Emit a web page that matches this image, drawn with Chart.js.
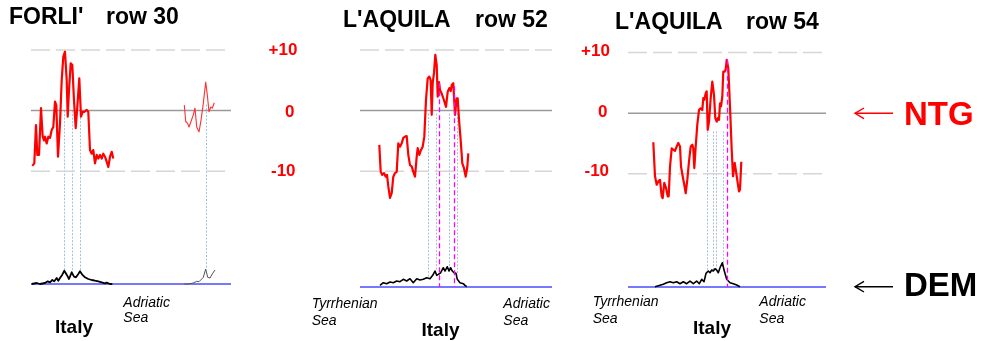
<!DOCTYPE html>
<html><head><meta charset="utf-8">
<script src="https://cdn.jsdelivr.net/npm/chart.js@4.4.1/dist/chart.umd.min.js"></script>
<style>
html,body{margin:0;padding:0;background:#fff;width:987px;height:341px;overflow:hidden;position:relative;font-family:"Liberation Sans",Arial,sans-serif;}
.t{position:absolute;line-height:0;height:0;white-space:pre;}
canvas{position:absolute;}
svg{position:absolute;left:0;top:0;}
</style></head><body>
<canvas id="c1"></canvas><canvas id="c2"></canvas><canvas id="c3"></canvas>
<svg width="987" height="341">
  <g stroke="#ff0000" stroke-width="1.4" fill="none"><line x1="855" y1="113.3" x2="893" y2="113.3"/><polyline points="864,108 855,113.3 864,118.6"/></g>
  <g stroke="#000" stroke-width="1.4" fill="none"><line x1="855" y1="286.7" x2="893" y2="286.7"/><polyline points="864,281.4 855,286.7 864,292"/></g>
</svg>
<div id="texts"></div>
<script>
// ---------------- DATA ----------------
const gridLevels = [10, 0, -10];               // NTG reference levels
const axisLabels = ['+10', '0', '-10'];

// Panel 1 : FORLI' row 30  (x = profile column, NTG in units, DEM in m)
const forliNtgX  = [1.3,3.3,5,6.3,8,10,11.7,13,14,15.7,17.3,19,20.7,22.3,24,25.3,27,29,30.7,32.3,34,35.7,36.7,38,39.7,41.3,43,44.7,46.3,48.3,50,51.7,53.3,55.7,57.3,59,60.7,62.3,64,65.7,67.3,69,70.7,72.3,74,75.7,77.3,79,80.7,82.3];
const forliNtg   = [-9.1,-8.7,-2.4,-7.3,-7.3,0.4,-4.3,-4.9,-4.3,-5.4,-4.3,-4.5,-3.2,-2.7,1.5,0.9,-7.6,-2.1,5.0,8.9,9.7,5.0,-1.0,3.4,7.8,7.5,1.7,-2.9,0.6,5.3,-1.0,-0.2,-0.2,0.1,-0.2,-6.5,-7.1,-6.5,-8.7,-7.3,-7.9,-7.3,-7.9,-7.1,-7.6,-8.4,-9.3,-7.6,-6.8,-7.9];
const forliNtgCoastX = [153.3,154.7,156.7,158,160,162.3,164,165.7,168,170,172.3,174.7,176.3,178,179.7,181.3,183.3];
const forliNtgCoast  = [0.9,-1.8,-2.1,-2.7,-1.8,-0.7,0.4,-2.7,-3.5,-1.6,1.2,4.7,2.6,-0.2,0.6,0.4,1.3];
const forliDemX  = [0.7,5.7,9,14,16.7,19,21.3,23.3,25.7,27.3,29,31.3,33.3,35.7,38,40.7,43,45,47.3,49,51.3,54,57.3,60.7,64,67.3,70.7,74,75.7,79,81.3];
const forliDem   = [0,100,0,100,270,170,400,270,600,330,600,930,1330,930,500,1170,730,670,1000,1270,930,670,500,400,330,270,170,70,130,0,0];
const forliDemCoastX = [153.3,157.3,162.3,165.7,168,170.7,172.3,174.7,176.7,179,181.3,184];
const forliDemCoast  = [0,0,100,270,230,500,670,1500,670,600,1000,1400];
const forliLinkX = [33.3,41.3,49,174.7], forliLinkNtg = [0,0,0,1], forliLinkDem = [1330,1170,1270,1500];
const forliFaultX = [], forliFaultNtg = [];

// Panel 2 : L'AQUILA row 52
const aq52NtgX = [19.3,20.7,22.3,24,25.7,27,28.3,30,31.7,33.3,35,36.7,38.3,40,41.7,43.3,45,46.7,48.3,50,51.7,53.3,55,56.7,57.7,59.3,61,62.7,64.3,66,67.7,69.3,70.7,71.7,72.7,74,75.3,76.7,77.7,79,80,81.7,84,86,87.7,89.3,90.7,91.7,93.3,95,96.7,97.7,99,100.7,102.3,104,105.7,107.3,108.3];
const aq52Ntg  = [-5.65,-10.1,-10.6,-10.3,-10.9,-10.6,-12.5,-14.4,-13.6,-10.9,-10.3,-10.1,-5.4,-5.95,-5.4,-4.5,-4.3,-4.2,-7.3,-9.0,-9.2,-10.1,-10.9,-7.6,-6.2,-7.3,-6.5,-5.95,-4.3,1.8,5.3,5.6,5.0,-0.7,4.5,6.2,9.2,7.5,2.3,4.7,3.4,2.8,1.7,0.6,3.1,3.7,3.2,4.2,4.5,-0.7,2.0,2.0,-1.5,-4.9,-8.7,-9.5,-10.9,-9.3,-7.05];
const aq52DemX = [20,23.3,26.7,30,33.3,36.7,40,43.3,46.7,50,53.3,56.7,60,63.3,66.7,70,72.7,75,76.7,78.3,80.7,83.3,85,87.3,89,90.7,92.3,94,96,97.3,100,103.3,105,106.7];
const aq52Dem  = [170,430,330,500,430,600,530,770,600,830,430,830,700,770,930,830,1170,1600,1170,1270,1430,1930,1600,2030,1600,1930,1600,1430,1370,770,430,330,170,30];
const aq52LinkX = [68.3,75.7,89.3,97.3], aq52LinkNtg = [-0.5,-0.5,-0.5,-0.5], aq52LinkDem = [1000,1600,1600,1200];
const aq52FaultX = [79.3,94], aq52FaultNtg = [4.5,4.0];

// Panel 3 : L'AQUILA row 54
const aq54NtgX = [25.3,27,28.7,30.3,32,33.7,34.7,36.3,38,39.7,40.7,42,43.7,45.3,47,48.7,50.3,52,53,54.7,56.3,57.7,59.3,61,62.7,64.3,65.3,66.3,67.7,69.3,71,72.7,74.3,75.3,76.3,77.7,78.7,79.7,81,82.7,84.3,86,87.3,88.7,90,91,92,93,94.3,95.3,96.7,97.7,98.7,100.3,102,103.7,105,106.7,108.3,109.7,111,112,113.3];
const aq54Ntg  = [-4.8,-10.4,-11.8,-11.25,-11,-13.7,-14.0,-11.5,-12.3,-13.7,-13.7,-8.8,-5.8,-6.0,-6.2,-5.5,-4.9,-5.5,-8.8,-10.4,-11.8,-13.2,-11,-7.95,-5.5,-5.2,-5.8,-9.05,-5.5,-1.9,0.5,0.8,0.5,2.5,2.2,3.3,3.6,-2.75,-1.4,2.5,5.2,3.0,-0.8,-1.4,-0.8,-1.1,1.6,1.1,2.7,6.85,6.85,7.2,8.8,7.4,1.1,-6.0,-10.4,-8.2,-9.9,-11.5,-12.9,-12.6,-8.0];
const aq54DemX = [27,32,35.3,38.7,42,45.3,48.7,52,55.3,58.7,62,65.3,68.7,71.3,73.7,76,78,80.3,82,83.7,85.3,87,88.7,90.3,92,94.3,96.3,98.7,102,105.3,108.7,112];
const aq54Dem  = [30,170,270,430,530,430,530,330,530,330,600,330,600,330,770,530,1370,1600,1430,1700,1600,1830,1700,1430,1930,2430,1600,770,430,330,200,30];
const aq54LinkX = [79.3,85.3,88,94.7], aq54LinkNtg = [-3,-3,-3,-3], aq54LinkDem = [1550,1750,1800,2400];
const aq54FaultX = [98.7], aq54FaultNtg = [8.8];

// ---------------- RENDER ----------------
const pts = (xs, ys) => xs.map((x, i) => ({x, y: ys[i]}));

function drawLinks(chart, list) {
  const {ctx, scales} = chart;
  list.forEach(l => {
    ctx.save();
    ctx.strokeStyle = l.color; ctx.lineWidth = l.width; ctx.setLineDash(l.dash);
    const px = Math.round(scales.x.getPixelForValue(l.x)) + 0.5;
    ctx.beginPath();
    ctx.moveTo(px, scales.y.getPixelForValue(l.top));
    ctx.lineTo(px, scales.dem.getPixelForValue(l.bottom));
    ctx.stroke();
    ctx.restore();
  });
}
function linkPlugin(links, faults) {
  return {
    id: 'links',
    beforeDatasetsDraw(chart) { drawLinks(chart, links); },
    afterDatasetsDraw(chart) { drawLinks(chart, faults); }
  };
}

function makePanel(id, geo, ntgSets, demSets, links, faults) {
  const pad = 6;
  const w = geo.right - geo.left, h = geo.bottom - geo.top;
  const cv = document.getElementById(id);
  cv.width = w + 2 * pad; cv.height = h + 2 * pad;
  cv.style.left = (geo.left - pad) + 'px'; cv.style.top = (geo.top - pad) + 'px';
  const yMin = -(geo.bottom - geo.zero) / geo.ppu, yMax = (geo.zero - geo.top) / geo.ppu;
  const demMax = h * 100;
  const ds = [];
  gridLevels.forEach(v => ds.push({data: [{x: 0, y: v}, {x: w, y: v}], yAxisID: 'y',
    borderColor: v === 0 ? '#9a9a9a' : '#d6d6d6', borderWidth: 1.5,
    borderDash: v === 0 ? [] : [19, 6], order: 10}));
  ds.push({data: [{x: 0, y: 0}, {x: w, y: 0}], yAxisID: 'dem', borderColor: '#4b4bff', borderWidth: 1.5, order: 9});
  demSets.forEach(s => ds.push({data: pts(s.x, s.y), yAxisID: 'dem', borderColor: s.color, borderWidth: s.width, order: 3}));
  ntgSets.forEach(s => ds.push({data: pts(s.x, s.y), yAxisID: 'y', borderColor: s.color, borderWidth: s.width, order: 1}));
  ds.forEach(d => { d.showLine = true; d.pointRadius = 0; d.clip = false; d.tension = 0; d.fill = false; d.borderJoinStyle = 'round'; });
  new Chart(cv, {
    type: 'scatter',
    data: {datasets: ds},
    options: {
      responsive: false, animation: false, devicePixelRatio: 1,
      layout: {padding: pad},
      plugins: {legend: {display: false}, tooltip: {enabled: false}},
      events: [],
      scales: {
        x: {type: 'linear', min: 0, max: w, display: false},
        y: {type: 'linear', min: yMin, max: yMax, display: false},
        dem: {type: 'linear', min: 0, max: demMax, display: false, position: 'right'}
      }
    },
    plugins: [linkPlugin(links, faults)]
  });
}

const mkLinks = (lx, lt, lb) => lx.map((x, i) => ({x, top: lt[i], bottom: lb[i], color: '#a3c2dc', width: 1, dash: [2, 1.5]}));
const mkFaults = (fx, ft) => fx.map((x, i) => ({x, top: ft[i], bottom: 0, color: '#ff00ff', width: 1.3, dash: [5, 3]}));

makePanel('c1', {left: 31, right: 231, top: 38, bottom: 284, zero: 110.6, ppu: 6.07},
  [{x: forliNtgX, y: forliNtg, color: '#ff0000', width: 2.2}, {x: forliNtgCoastX, y: forliNtgCoast, color: '#ff3030', width: 1.1}],
  [{x: forliDemX, y: forliDem, color: '#000', width: 1.8}, {x: forliDemCoastX, y: forliDemCoast, color: '#555', width: 1}],
  mkLinks(forliLinkX, forliLinkNtg, forliLinkDem), mkFaults(forliFaultX, forliFaultNtg));
makePanel('c2', {left: 360, right: 552, top: 38, bottom: 287.5, zero: 110.7, ppu: 6.08},
  [{x: aq52NtgX, y: aq52Ntg, color: '#ff0000', width: 2.2}],
  [{x: aq52DemX, y: aq52Dem, color: '#000', width: 1.6}],
  mkLinks(aq52LinkX, aq52LinkNtg, aq52LinkDem), mkFaults(aq52FaultX, aq52FaultNtg));
makePanel('c3', {left: 628, right: 826, top: 40, bottom: 287.5, zero: 113.3, ppu: 6.08},
  [{x: aq54NtgX, y: aq54Ntg, color: '#ff0000', width: 2.2}],
  [{x: aq54DemX, y: aq54Dem, color: '#000', width: 1.6}],
  mkLinks(aq54LinkX, aq54LinkNtg, aq54LinkDem), mkFaults(aq54FaultX, aq54FaultNtg));

// ---------------- TEXT ----------------
const T = document.getElementById('texts');
function put(txt, x, baseline, size, weight, style, color) {
  const d = document.createElement('div');
  d.className = 't';
  d.textContent = txt;
  d.style.left = x + 'px';
  d.style.top = (baseline - 0.3465 * size) + 'px';
  d.style.fontSize = size + 'px';
  d.style.fontWeight = weight; d.style.fontStyle = style; d.style.color = color;
  T.appendChild(d);
}
put("FORLI'", 9, 23.5, 23, 'bold', 'normal', '#000');
put('row 30', 106, 23.5, 23, 'bold', 'normal', '#000');
put("L'AQUILA", 343, 26.7, 23, 'bold', 'normal', '#000');
put('row 52', 475, 26.7, 23, 'bold', 'normal', '#000');
put("L'AQUILA", 615, 29.3, 23, 'bold', 'normal', '#000');
put('row 54', 746, 29.3, 23, 'bold', 'normal', '#000');

const lblA = [[268.5, 56], [285, 118.3], [271, 176.7]];
const lblB = [[581, 56.7], [598, 118.3], [584.5, 176.7]];
axisLabels.forEach((s, i) => { put(s, lblA[i][0], lblA[i][1], 17, 'bold', 'normal', '#ff0000'); put(s, lblB[i][0], lblB[i][1], 17, 'bold', 'normal', '#ff0000'); });

put('NTG', 904, 125, 33, 'bold', 'normal', '#ff0000');
put('DEM', 904, 296.7, 33, 'bold', 'normal', '#000');

put('Italy', 55, 334, 19, 'bold', 'normal', '#000');
put('Italy', 421.5, 336.7, 19, 'bold', 'normal', '#000');
put('Italy', 693, 334.3, 19, 'bold', 'normal', '#000');

put('Adriatic', 123.3, 306.7, 14, 'normal', 'italic', '#000');
put('Sea', 123.3, 322.3, 14, 'normal', 'italic', '#000');
put('Tyrrhenian', 311.7, 308.3, 14, 'normal', 'italic', '#000');
put('Sea', 311.7, 325, 14, 'normal', 'italic', '#000');
put('Adriatic', 503.3, 308.3, 14, 'normal', 'italic', '#000');
put('Sea', 503.3, 325, 14, 'normal', 'italic', '#000');
put('Tyrrhenian', 592.7, 306, 14, 'normal', 'italic', '#000');
put('Sea', 592.7, 322.7, 14, 'normal', 'italic', '#000');
put('Adriatic', 759.3, 306, 14, 'normal', 'italic', '#000');
put('Sea', 759.3, 322.7, 14, 'normal', 'italic', '#000');
</script>
</body></html>
